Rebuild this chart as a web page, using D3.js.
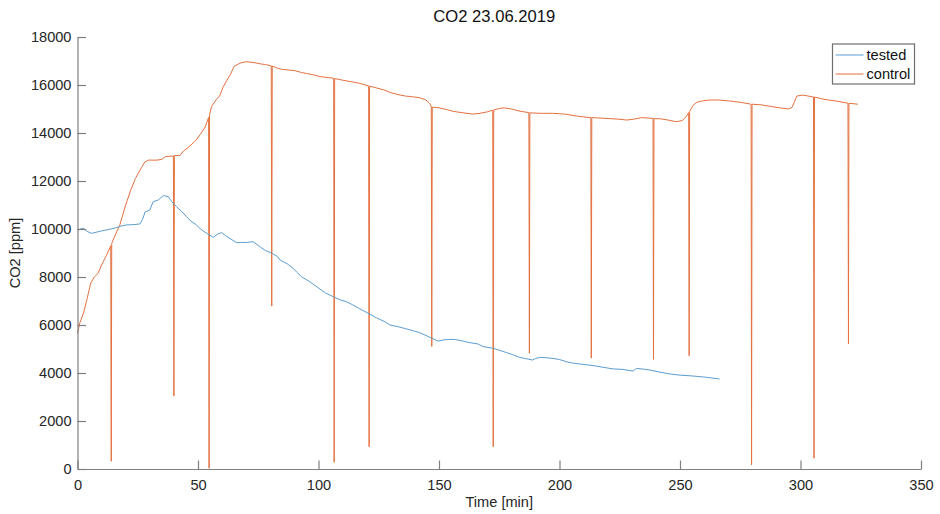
<!DOCTYPE html>
<html>
<head>
<meta charset="utf-8">
<script src="https://cdn.jsdelivr.net/npm/d3@7"></script>
<style>
  html, body { margin: 0; padding: 0; background: #fff; }
  svg { display: block; font-family: "Liberation Sans", Arial, sans-serif; }
</style>
</head>
<body>
<svg id="chart" width="940" height="514"></svg>
<script>
// ---- data ----
const titleText = "CO2 23.06.2019";
const xLabel = "Time [min]";
const yLabel = "CO2 [ppm]";
const xTicks = [0, 50, 100, 150, 200, 250, 300, 350];
const yTicks = [0, 2000, 4000, 6000, 8000, 10000, 12000, 14000, 16000, 18000];
const seriesNames = ["tested", "control"];

const testedTime = [0,1.2,2.4,4,5.9,8,10,13,16.3,18,20.4,23,25.9,27,28,30,31.4,33.5,35.6,37.7,39,41.1,43,45.3,47,49.4,51,53.6,56.3,58,59.8,61.5,63.2,66,68,70.2,72.9,75.7,78,80.5,83,84,87,89.5,91,93,96.4,100.6,103,106.1,109,111.6,114,117,120.6,124,127.5,129.6,133,136,139.3,142,146.2,149.6,152,154.5,157,160,163,166.2,168.3,172.4,175,178,181,183.5,186,188.8,190,191.8,194,197.3,200,202.9,205,208.4,213.9,218,222.2,226.3,230.5,231.9,235,237.4,241,245.7,250,255.4,261,266.4];
const testedCO2 = [9960,10000,10030,9900,9820,9870,9920,9980,10060,10120,10170,10180,10210,10400,10700,10790,11140,11210,11390,11350,11150,10930,10750,10510,10330,10170,10000,9820,9650,9780,9850,9720,9610,9430,9440,9440,9470,9260,9100,9000,8850,8710,8550,8360,8200,8010,7800,7500,7330,7180,7050,6970,6850,6680,6490,6300,6140,6000,5930,5850,5760,5680,5490,5330,5380,5400,5390,5330,5260,5210,5100,5030,4950,4850,4750,4650,4600,4540,4600,4650,4640,4610,4560,4470,4420,4375,4310,4240,4170,4150,4080,4190,4160,4125,4050,3960,3910,3875,3820,3750];

// control series, including the single-sample dropouts (spikes)
const controlTime = [0,1,2.5,4,5.5,7,8.5,10,12,13.8,14.0,14.2,15,17.5,20,22,24,26.5,28,29.5,33,35,36.5,39.8,40.0,40.2,42.5,44,46,49,51,53,54.4,54.6,54.8,55.6,57.5,59,60.5,62,63.5,65,66.5,68,70,72,74,76,78,80.4,80.6,80.8,83,85,88,90,93,95,98,100.5,104,106.3,106.5,106.7,110,114,117,120.8,121,121.2,124,127,130,133,136,139,142,144.5,146,146.8,147,147.2,150,153,156,160,164,167,170,172.3,172.5,172.7,175,177,180,184,187.3,187.5,187.7,192,197,202,207,210,213,213.2,213.4,219,224,228,231,234,238.8,239,239.2,242,245,248.5,251,252.5,253.6,253.8,254,255.4,257,259,262,266,270,275,279.5,279.7,279.9,284,288,292,295,296.5,297.5,298.5,301,305.4,305.6,305.8,309,312,315,319.7,319.9,320.1,323.8];
const controlCO2 = [5650,6100,6500,7100,7750,8000,8150,8500,8900,9300,320,9400,9600,10150,11000,11600,12100,12550,12800,12870,12870,12900,13020,13040,3040,13060,13060,13250,13400,13680,13950,14250,14650,30,14750,15100,15380,15550,15930,16200,16450,16780,16860,16930,16970,16950,16920,16880,16850,16800,6790,16790,16700,16650,16620,16600,16520,16480,16420,16350,16310,16280,280,16270,16200,16130,16070,15960,930,15950,15880,15800,15680,15600,15540,15510,15470,15380,15250,15120,5110,15080,15050,14980,14900,14840,14790,14820,14880,14950,930,14960,15020,15050,15000,14900,14850,4820,14840,14820,14820,14790,14710,14670,14640,4620,14640,14610,14580,14540,14580,14640,14610,4570,14600,14590,14540,14470,14520,14680,14850,4720,14900,15150,15280,15330,15375,15375,15340,15280,15200,170,15200,15170,15100,15040,15000,15070,15300,15540,15580,15500,450,15500,15420,15370,15330,15240,5210,15240,15200];

// ---- layout ----
const svg = d3.select("#chart");
const margin = { left: 77.5, right: 19, top: 37, bottom: 45 };
const W = 940, H = 514;
const x = d3.scaleLinear().domain([0, 350]).range([margin.left, W - margin.right]);
const y = d3.scaleLinear().domain([0, 18000]).range([H - margin.bottom, margin.top]);

const axisColor = "#7f7f7f";
const textColor = "#262626";
const fontSize = 14.6;
const blue = "#5c9dd0";
const orange = "#e3703f";

// lines
const testedData = testedTime.map((t, i) => [t, testedCO2[i]]);
const controlData = controlTime.map((t, i) => [t, controlCO2[i]]);
const line = d3.line().x(d => x(d[0])).y(d => y(d[1]));

svg.append("path").datum(controlData)
  .attr("fill", "none").attr("stroke", orange).attr("stroke-width", 1)
  .attr("stroke-linejoin", "round").attr("d", line);
svg.append("path").datum(testedData)
  .attr("fill", "none").attr("stroke", blue).attr("stroke-width", 1)
  .attr("stroke-linejoin", "round").attr("d", line);

// axes
const fmt = d3.format("d");
const xAxis = d3.axisBottom(x).tickValues(xTicks).tickFormat(fmt).tickSizeInner(-8.5).tickSizeOuter(0).tickPadding(11);
const yAxis = d3.axisLeft(y).tickValues(yTicks).tickFormat(fmt).tickSizeInner(-8.5).tickSizeOuter(0).tickPadding(6);

const gx = svg.append("g").attr("transform", `translate(0,${y(0)})`).call(xAxis);
const gy = svg.append("g").attr("transform", `translate(${x(0)},0)`).call(yAxis);
[gx, gy].forEach(g => {
  g.select(".domain").attr("stroke", axisColor).attr("stroke-width", 1.2);
  g.selectAll(".tick line").attr("stroke", axisColor).attr("stroke-width", 1.2);
  g.selectAll(".tick text").attr("fill", textColor)
    .style("font-size", fontSize + "px")
    .style("font-family", "'Liberation Sans', Arial, sans-serif");
});

// title
svg.append("text").attr("x", (x(0) + x(350)) / 2 - 5).attr("y", 22)
  .attr("text-anchor", "middle").attr("fill", "#111")
  .style("font-size", "16.6px").text(titleText);

// axis labels
svg.append("text").attr("x", (x(0) + x(350)) / 2).attr("y", 507)
  .attr("text-anchor", "middle").attr("fill", textColor)
  .style("font-size", fontSize + "px").text(xLabel);
svg.append("text")
  .attr("transform", `translate(20,${(y(0) + y(18000)) / 2}) rotate(-90)`)
  .attr("text-anchor", "middle").attr("fill", textColor)
  .style("font-size", fontSize + "px").text(yLabel);

// legend
const lg = svg.append("g").attr("transform", "translate(832.5,44)");
lg.append("rect").attr("x", 0).attr("y", 0).attr("width", 82).attr("height", 40)
  .attr("fill", "#fff").attr("stroke", "#6e6e6e").attr("stroke-width", 1.2);
const legColors = [blue, orange];
seriesNames.forEach((name, i) => {
  const cy = 11 + i * 19;
  lg.append("line").attr("x1", 3).attr("x2", 31).attr("y1", cy).attr("y2", cy)
    .attr("stroke", legColors[i]).attr("stroke-width", 1);
  lg.append("text").attr("x", 34).attr("y", cy).attr("dy", "0.35em")
    .attr("fill", "#111").style("font-size", fontSize + "px").text(name);
});
</script>
</body>
</html>
